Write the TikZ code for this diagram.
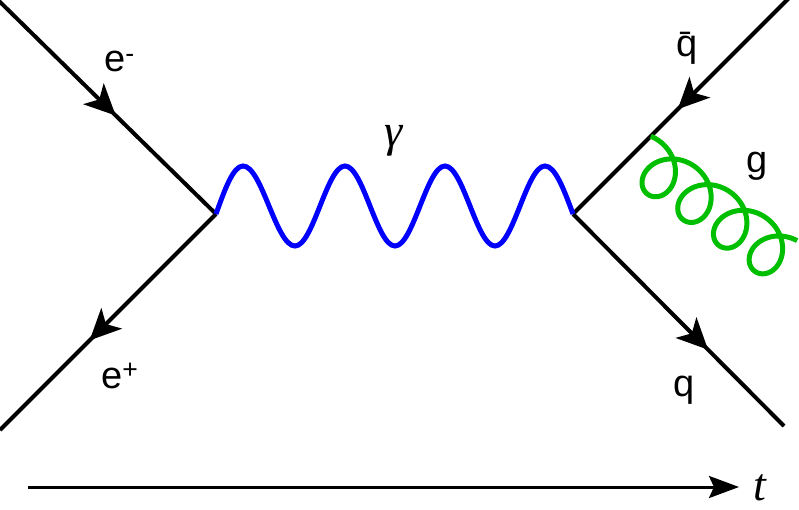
\documentclass[tikz,border=0pt]{standalone}
\usepackage{fontspec}
\setmainfont{Liberation Sans}
\newfontfamily\symfont{Liberation Serif}
\usepackage{tikz}
\usetikzlibrary{arrows.meta}
\usetikzlibrary{decorations.markings}
\usetikzlibrary{calc}
\definecolor{gluongreen}{RGB}{0,190,0}

\begin{document}
\begin{tikzpicture}[x=1pt,y=-1pt,
			fermion/.style={line width=4pt,postaction={decorate},
				decoration={markings,mark=at position #1 with
					{\arrow{Stealth[length=31pt,width=29pt,inset=8pt]}}}},
			photon/.style={line width=5pt,blue},
			gluon/.style={line width=5pt,gluongreen},
			timeline/.style={line width=3pt,-{Stealth[length=30pt,width=22pt,inset=5pt]}},
			tag/.style={inner sep=0pt,anchor=base west,font=\fontsize{38}{40}\selectfont},
			symtag/.style={inner sep=0pt,anchor=base west,font=\symfont\itshape\fontsize{46}{48}\selectfont}]
			\useasboundingbox (0,0) rectangle (799,510);
			
			% vertices and outer ends
			\coordinate (V1) at (216,214);
			\coordinate (V2) at (573,214);
			\coordinate (Em) at (-2,0);
			\coordinate (Ep) at (0,430);
			\coordinate (Qb) at (789,-2);
			\coordinate (Q) at (784,426);
			
			\draw[fermion=0.54] (Em) -- (V1);
			\draw[fermion=0.585] (V1) -- (Ep);
			\draw[fermion=0.515] (Qb) -- (V2);
			\draw[fermion=0.64] (V2) -- (Q);
			
			% photon, quarter waves
			\draw[photon] (V1) sin ++(27,-48) cos ++(26,40) sin ++(26,40)
				cos ++(25,-40) sin ++(25,-40) cos ++(25,40) sin ++(25,40)
				cos ++(25,-40) sin ++(25,-40) cos ++(25,40) sin ++(25,40)
				cos ++(25,-40) sin ++(25,-40) cos (V2);
			
			% gluon off the antiquark line
			\coordinate (G0) at ($(Qb)!0.64!(V2)$);
			\draw[gluon,shift={(G0)}] plot[domain=-17:1430,samples=320,smooth,variable=\t]
				({8.26+(0.12217*\t+25*sin(\t))*0.812-25*(1-cos(\t))*0.584},
				{4.59+(0.12217*\t+25*sin(\t))*0.584+25*(1-cos(\t))*0.812});
			
			\node[tag] (em) at (104,72) {e\textsuperscript{-}};
			\node[tag] (ep) at (101,388) {e\textsuperscript{+}};
			\node[symtag] (ga) at (384,147) {γ};
			\node[tag] (qb) at (676,57) {\=q};
			\node[tag] (gl) at (746,173) {g};
			\node[tag] (qq) at (673,396) {q};
			
			% time axis
			\coordinate (T0) at (28,487);
			\coordinate (T1) at (739,487);
			\draw[timeline] (T0) -- (T1);
			\node[symtag] (tt) at (753,500) {t};
		\end{tikzpicture}
\end{document}
